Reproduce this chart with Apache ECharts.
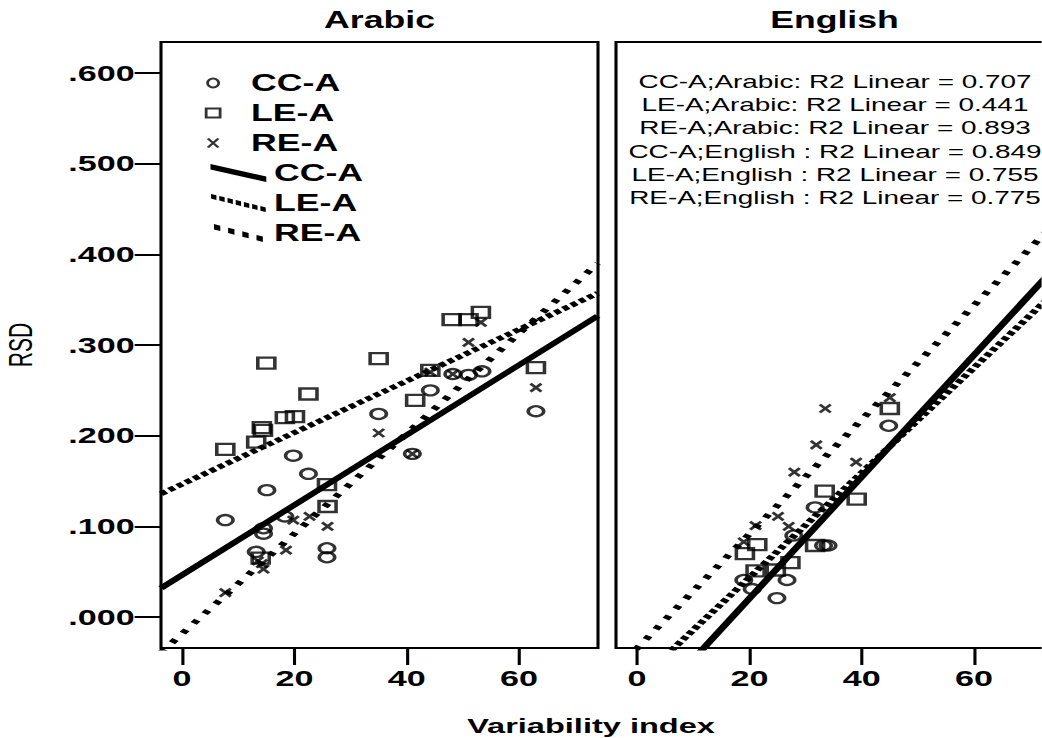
<!DOCTYPE html>
<html><head><meta charset="utf-8">
<script src="https://cdn.jsdelivr.net/npm/echarts@6/dist/echarts.min.js"></script>
<style>
html,body{margin:0;padding:0;background:#fff;overflow:hidden}
#wrap{width:1042px;height:738px;overflow:hidden;position:relative;background:#fff}
#chart{position:absolute;left:0;top:0;height:738px;transform-origin:0 0}
</style></head>
<body><div id="wrap"><div id="chart"></div></div>
<script>
// ---------------- data ----------------
const panels = ['Arabic', 'English'];
const groups = ['CC-A', 'LE-A', 'RE-A'];
const xTicks = [0, 20, 40, 60];
const yTicks = [0, 0.1, 0.2, 0.3, 0.4, 0.5, 0.6];

const arabicCC = [[7.7,.107],[13.2,.072],[14.5,.098],[14.5,.092],[15.1,.140],[18.3,.111],[19.8,.178],[22.5,.158],[25.8,.076],[25.8,.066],[35.0,.224],[41.0,.180],[44.2,.250],[48.2,.268],[51.0,.267],[53.4,.271],[63.0,.227]];
const arabicLE = [[7.7,.185],[13.2,.193],[14.0,.065],[14.2,.209],[14.4,.206],[15.0,.280],[18.3,.220],[20.1,.221],[22.5,.246],[25.8,.146],[25.9,.122],[35.0,.285],[41.5,.239],[44.2,.272],[48.0,.328],[51.0,.328],[53.2,.336],[63.0,.275]];
const arabicRE = [[7.7,.027],[13.5,.062],[14.2,.059],[14.5,.053],[18.5,.074],[19.8,.107],[22.7,.111],[25.9,.100],[35.0,.203],[41.0,.180],[44.2,.270],[48.2,.268],[51.0,.303],[53.2,.325],[63.0,.253]];

const englishCC = [[19.0,.041],[20.5,.031],[24.9,.021],[26.7,.041],[27.9,.090],[31.7,.121],[33.2,.079],[34.0,.079],[44.8,.211]];
const englishLE = [[19.2,.070],[21.1,.051],[21.4,.080],[24.7,.052],[27.3,.060],[31.7,.079],[33.4,.139],[39.1,.130],[45.0,.230]];
const englishRE = [[19.0,.083],[21.1,.101],[25.1,.111],[27.0,.100],[28.0,.160],[31.9,.190],[33.5,.230],[39.0,.171],[45.0,.242]];

// fitted regression lines (end points)
const arabicFitCC = [[-3.75,0.032],[74,0.332]];
const arabicFitLE = [[-3.75,0.136],[74,0.357]];
const arabicFitRE = [[-3.75,-0.039],[74,0.390]];
const englishFitCC = [[8,-0.060],[74,0.383]];
const englishFitLE = [[0,-0.072],[74,0.356]];
const englishFitRE = [[-3.75,-0.058],[74,0.432]];

const r2Names = ['CC-A;Arabic:', 'LE-A;Arabic:', 'RE-A;Arabic:', 'CC-A;English :', 'LE-A;English :', 'RE-A;English :'];
const r2Values = ['0.707', '0.441', '0.893', '0.849', '0.755', '0.775'];

// ---------------- layout ----------------
const S = 1.55;                 // horizontal stretch of the original picture
const W = 1042 / S;
const el = document.getElementById('chart');
el.style.width = W + 'px';
el.style.transform = 'scaleX(' + S + ')';

const FONT = 'Liberation Sans';
const xMin = -3.75, xMax = 74.05, yMin = -0.034, yMax = 0.634;
const gridL = 161 / S, gridW = 437 / S, grid2L = 616 / S;

const markerStyle = {color: 'rgba(0,0,0,0)', borderColor: '#000', borderWidth: 2.3};
const xPath = 'path://M0,0L10,10M10,0L0,10';

function scatter(name, data, i, symbol, size) {
  return {type: 'scatter', name, data, xAxisIndex: i, yAxisIndex: i, symbol, symbolSize: size,
    itemStyle: markerStyle, z: 4, silent: true};
}
function fit(name, data, i, type, width) {
  return {type: 'line', name, data, xAxisIndex: i, yAxisIndex: i, symbol: 'none', showSymbol: false,
    lineStyle: {color: '#000', width, type, cap: 'butt'}, itemStyle: {color: '#000'}, z: 3, silent: true, clip: true};
}

function xAxis(i) {
  return {type: 'value', gridIndex: i, min: xMin, max: xMax, splitLine: {show: false},
    axisLine: {show: false, onZero: false},
    axisTick: {show: true, customValues: xTicks, length: 17, inside: false, lineStyle: {color: '#000', width: 2}},
    axisLabel: {show: true, customValues: xTicks, margin: 19, color: '#000', fontSize: 22, fontWeight: 'bold', fontFamily: FONT}};
}
function yAxis(i) {
  const show = i === 0;
  return {type: 'value', gridIndex: i, min: yMin, max: yMax, splitLine: {show: false},
    axisLine: {show: false, onZero: false},
    name: show ? 'RSD' : '', nameLocation: 'middle', nameGap: 80, nameRotate: 90,
    nameTextStyle: {color: '#000', fontSize: 21, fontFamily: FONT},
    axisTick: {show, customValues: yTicks, length: 17, inside: false, lineStyle: {color: '#000', width: 2}},
    axisLabel: {show, customValues: yTicks, margin: 17, color: '#000', fontSize: 22, fontWeight: 'bold', fontFamily: FONT,
      formatter: v => v.toFixed(3).replace(/^0/, '')}};
}

// legend icons
const solidIcon = 'path://M0,0L36,12.5L36,18L0,5.5Z';
function dashIcon(n, period, len, k, th) {
  let p = 'path://';
  for (let j = 0; j < n; j++) {
    const x0 = j * period, y0 = x0 * k;
    p += 'M' + x0 + ',' + y0 + 'L' + (x0 + len) + ',' + (y0 + len * k) + 'L' + (x0 + len) + ',' + (y0 + len * k + th) + 'L' + x0 + ',' + (y0 + th) + 'Z';
  }
  return p;
}
const leIcon = dashIcon(7, 5.2, 3.4, 0.38, 4.5);
const reIcon = dashIcon(4, 8.5, 3.8, 0.4, 5);
const legendText = {color: '#000', fontSize: 23, fontWeight: 'bold', fontFamily: FONT, lineHeight: 23};
const hollow = {color: 'rgba(0,0,0,0)', borderColor: '#000', borderWidth: 1.8};
const solid = {color: '#000', borderWidth: 0};

const annotation = r2Names.map((n, i) => n + ' R2 Linear = ' + r2Values[i]).join('\n');

const option = {
  animation: false,
  backgroundColor: '#fff',
  color: ['#000'],
  grid: [
    {left: gridL, top: 42, width: gridW, height: 606, show: true, borderColor: '#000', borderWidth: 2, backgroundColor: '#fff', containLabel: false, outerBoundsMode: 'none'},
    {left: grid2L, top: 42, width: gridW, height: 606, show: true, borderColor: '#000', borderWidth: 2, backgroundColor: '#fff', containLabel: false, outerBoundsMode: 'none'}
  ],
  xAxis: [xAxis(0), xAxis(1)],
  yAxis: [yAxis(0), yAxis(1)],
  title: [
    {text: panels[0], left: gridL + gridW / 2, top: 8, textAlign: 'center', textVerticalAlign: 'top', padding: 0,
      textStyle: {color: '#000', fontSize: 23, fontWeight: 'bold', fontFamily: FONT}},
    {text: panels[1], left: grid2L + gridW / 2, top: 8, textAlign: 'center', textVerticalAlign: 'top', padding: 0,
      textStyle: {color: '#000', fontSize: 23, fontWeight: 'bold', fontFamily: FONT}},
    {text: 'Variability index', left: 591 / S, top: 715, textAlign: 'center', textVerticalAlign: 'top', padding: 0,
      textStyle: {color: '#000', fontSize: 21, fontWeight: 'bold', fontFamily: FONT}},
    {text: annotation, left: 835 / S, top: 70, textAlign: 'center', textVerticalAlign: 'top', padding: 0,
      textStyle: {color: '#000', fontSize: 18, fontWeight: 'normal', fontFamily: FONT, lineHeight: 23.3}}
  ],
  legend: [
    {orient: 'vertical', left: 132.1, top: 71.5, padding: 0, itemWidth: 39, itemHeight: 9, itemGap: 7, selectedMode: false,
      textStyle: legendText,
      data: [
        {name: groups[0], icon: 'path://M0,5A4,5 0 1 1 8,5A4,5 0 1 1 0,5Z', itemStyle: hollow},
        {name: groups[1], icon: 'path://M0,0L9,0L9,9L0,9Z', itemStyle: hollow},
        {name: groups[2], icon: 'path://M0,0L6,8M6,0L0,8', itemStyle: hollow}
      ]},
    {orient: 'vertical', left: 135.8, top: 161.5, padding: 0, itemWidth: 36, itemHeight: 18, itemGap: 7, selectedMode: false,
      textStyle: legendText, formatter: n => n.replace(' fit', ''),
      data: [
        {name: groups[0] + ' fit', icon: solidIcon, itemStyle: solid},
        {name: groups[1] + ' fit', icon: leIcon, itemStyle: solid},
        {name: groups[2] + ' fit', icon: reIcon, itemStyle: solid}
      ]}
  ],
  series: [
    scatter(groups[0], arabicCC, 0, 'circle', 10),
    scatter(groups[1], arabicLE, 0, 'rect', 11),
    scatter(groups[2], arabicRE, 0, xPath, [7, 8]),
    scatter(groups[0], englishCC, 1, 'circle', 10),
    scatter(groups[1], englishLE, 1, 'rect', 11),
    scatter(groups[2], englishRE, 1, xPath, [7, 8]),
    fit(groups[0] + ' fit', arabicFitCC, 0, 'solid', 5),
    fit(groups[1] + ' fit', arabicFitLE, 0, [4, 2.5], 5),
    fit(groups[2] + ' fit', arabicFitRE, 0, [4, 8], 5),
    fit(groups[0] + ' fit', englishFitCC, 1, 'solid', 5),
    fit(groups[1] + ' fit', englishFitLE, 1, [4, 2.5], 5),
    fit(groups[2] + ' fit', englishFitRE, 1, [4, 8], 5)
  ]
};
const chart = echarts.init(el, null, {renderer: 'svg', width: W, height: 738});
chart.setOption(option);
</script>
</body></html>
